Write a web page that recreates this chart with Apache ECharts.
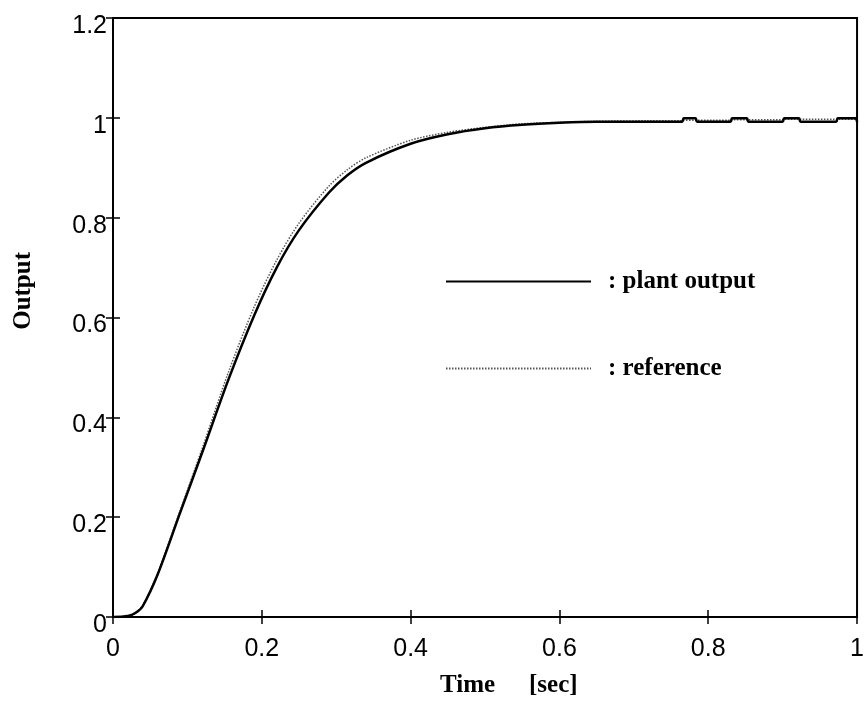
<!DOCTYPE html>
<html>
<head>
<meta charset="utf-8">
<script src="https://cdn.jsdelivr.net/npm/echarts@6/dist/echarts.min.js"></script>
<style>
  html, body { margin: 0; padding: 0; background: #fff; }
  #chart { width: 867px; height: 709px; }
</style>
</head>
<body>
<div id="chart"></div>
<script>
// time axis samples [sec]
const timeSec = [0, 0.02, 0.03, 0.04, 0.06, 0.09, 0.12, 0.155, 0.19, 0.22, 0.25, 0.29, 0.315, 0.34, 0.4, 0.45, 0.5, 0.55, 0.6, 0.65, 0.72, 0.765, 0.767, 0.783, 0.785, 0.83, 0.832, 0.852, 0.854, 0.9, 0.902, 0.922, 0.924, 0.972, 0.974, 0.998, 1.0]
// plant output
const plantOutput = [0, 0.002, 0.008, 0.022, 0.085, 0.208, 0.33, 0.475, 0.605, 0.70, 0.775, 0.85, 0.885, 0.91, 0.948, 0.967, 0.979, 0.986, 0.99, 0.992, 0.992, 0.992, 0.999, 0.999, 0.992, 0.992, 0.999, 0.999, 0.992, 0.992, 0.999, 0.999, 0.992, 0.992, 0.999, 0.999, 0.992]
// reference trajectory
const referenceOut = [0, 0.002, 0.008, 0.023, 0.088, 0.212, 0.338, 0.49, 0.622, 0.715, 0.789, 0.863, 0.896, 0.92, 0.955, 0.971, 0.981, 0.988, 0.991, 0.993, 0.994, 0.994, 0.995, 0.995, 0.995, 0.995, 0.996, 0.996, 0.996, 0.996, 0.997, 0.997, 0.997, 0.997, 0.997, 0.997, 0.997]

const xTicks = [0, 0.2, 0.4, 0.6, 0.8, 1]
const yTicks = [0, 0.2, 0.4, 0.6, 0.8, 1, 1.2]

const chart = echarts.init(document.getElementById('chart'))

const tickFont = 'Liberation Sans, Arial, sans-serif'
const titleFont = 'Liberation Serif, Times New Roman, serif'

function pairs(ys) {
  return timeSec.map((t, i) => [t, ys[i]])
}

function tickText(list) {
  return function(v) {
    const r = +v.toFixed(1)
    return list.includes(r) ? String(r) : ''
  }
}

const hiddenAxisBits = {
  axisLine: { show: false },
  axisLabel: { show: false },
  splitLine: { show: false }
}

const option = {
  backgroundColor: '#fff',
  animation: false,
  grid: {
    left: 113,
    right: 7,
    top: 18,
    bottom: 92,
    show: true,
    borderColor: '#000',
    borderWidth: 2
  },
  legend: {
    orient: 'vertical',
    left: 440,
    top: 264,
    itemWidth: 145,
    itemHeight: 30,
    itemGap: 62,
    itemStyle: { opacity: 0 },
    textStyle: {
      fontFamily: titleFont,
      fontWeight: 'bold',
      fontSize: 25,
      color: '#000',
      padding: [0, 0, 0, 12]
    },
    formatter: function(name) {
      return ': ' + name
    },
    data: ['plant output', 'reference']
  },
  xAxis: [
    {
      type: 'value',
      min: 0,
      max: 1,
      interval: 0.2,
      axisLine: { show: true, onZero: false, lineStyle: { color: '#000', width: 2 } },
      axisTick: { inside: true, length: 7, lineStyle: { color: '#000', width: 1.5 } },
      axisLabel: {
        margin: 20,
        fontFamily: tickFont,
        fontSize: 25,
        color: '#000',
        formatter: tickText(xTicks)
      },
      splitLine: { show: false }
    },
    {
      type: 'value',
      position: 'top',
      min: 0,
      max: 1,
      interval: 0.2,
      axisTick: { inside: true, length: 7, lineStyle: { color: '#000', width: 1.5 } },
      ...hiddenAxisBits
    }
  ],
  yAxis: [
    {
      type: 'value',
      min: 0,
      max: 1.2,
      interval: 0.2,
      axisLine: { show: true, onZero: false, lineStyle: { color: '#000', width: 2 } },
      axisTick: { inside: true, length: 7, lineStyle: { color: '#000', width: 1.5 } },
      axisLabel: {
        margin: 6,
        fontFamily: tickFont,
        fontSize: 25,
        color: '#000',
        verticalAlign: 'top',
        lineHeight: 16,
        formatter: tickText(yTicks)
      },
      splitLine: { show: false }
    },
    {
      type: 'value',
      position: 'right',
      min: 0,
      max: 1.2,
      interval: 0.2,
      axisTick: { inside: true, length: 7, lineStyle: { color: '#000', width: 1.5 } },
      ...hiddenAxisBits
    }
  ],
  graphic: [
    {
      type: 'text',
      left: 440,
      top: 673,
      style: {
        text: 'Time',
        font: 'bold 25px ' + titleFont,
        fill: '#000'
      }
    },
    {
      type: 'text',
      left: 529,
      top: 673,
      style: {
        text: '[sec]',
        font: 'bold 25px ' + titleFont,
        fill: '#000'
      }
    },
    {
      type: 'text',
      left: 11,
      top: 252,
      rotation: Math.PI / 2,
      style: {
        text: 'Output',
        font: 'bold 25px ' + titleFont,
        fill: '#000'
      }
    }
  ],
  series: [
    {
      name: 'reference',
      type: 'line',
      data: pairs(referenceOut),
      showSymbol: false,
      symbol: 'none',
      smooth: 0.3,
      lineStyle: { color: '#555', width: 1.5, type: [1.5, 1.5] },
      itemStyle: { color: '#555' },
      z: 2
    },
    {
      name: 'plant output',
      type: 'line',
      data: pairs(plantOutput),
      showSymbol: false,
      symbol: 'none',
      smooth: 0.3,
      lineStyle: { color: '#000', width: 2.5 },
      itemStyle: { color: '#000' },
      z: 3
    }
  ]
}

chart.setOption(option)
</script>
</body>
</html>
